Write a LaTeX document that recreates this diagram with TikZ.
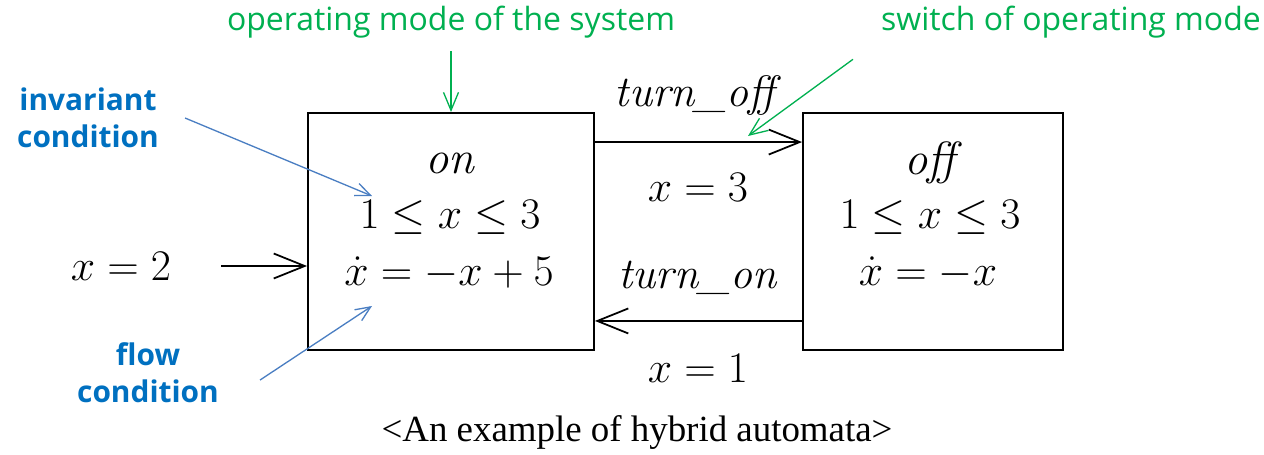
\documentclass[tikz,border=0pt]{standalone}
\usepackage{fontspec}
\usepackage{amsmath}
\usetikzlibrary{positioning, arrows.meta}
\newfontfamily\notefont{Open Sans}
\newfontfamily\capfont{Liberation Serif}
\definecolor{hagreen}{HTML}{00B050}
\definecolor{hablue}{HTML}{0070C0}
\definecolor{halink}{HTML}{4A7EC2}
\begin{document}
\begin{tikzpicture}[x=0.02cm, y=-0.02cm,
    modebox/.style={draw, line width=1.1pt, minimum height=4.74cm, inner sep=0pt},
    mathtxt/.style={font=\fontsize{26.5}{31}\selectfont, inner sep=0pt},
    trans/.style={-{Straight Barb[length=0.62cm, width=0.5cm, line width=1pt]}, line width=1.1pt},
    gnote/.style={text=hagreen, font=\notefont\fontsize{18.2}{22}\selectfont},
    bnote/.style={text=hablue, font=\notefont\bfseries\fontsize{17}{21}\selectfont, align=center},
    gline/.style={draw=hagreen, line width=0.75pt, -{Straight Barb[length=0.36cm, width=0.3cm]}},
    bline/.style={draw=halink, line width=0.75pt, -{Straight Barb[length=0.3cm, width=0.26cm]}}]
  \useasboundingbox (0,0) rectangle (1264,454);
  \node[modebox, minimum width=5.72cm] (on) at (451,231.5) {};
  \node[modebox, minimum width=5.2cm] (off) at (933,231.5) {};
  \node[mathtxt] (onname) at (450,163) {\textit{on}};
  \node[mathtxt] (oninv) at (450,217) {$1\leq x\leq 3$};
  \node[mathtxt] (onflow) at (449,273) {$\dot{x}=-x+5$};
  \node[mathtxt] (offname) at (933,163) {\textit{off}};
  \node[mathtxt] (offinv) at (930,217) {$1\leq x\leq 3$};
  \node[mathtxt] (offflow) at (928,273) {$\dot{x}=-x$};
  \node[mathtxt, font=\fontsize{28}{33}\selectfont] (init) at (121,266) {$x=2$};
  \draw[trans] ([xshift=1cm]init.east) -- (init -| on.west);
  \draw[trans] ([yshift=-0.6cm]on.north east) -- ([yshift=-0.6cm]off.north west);
  \draw[trans] ([yshift=0.6cm]off.south west) -- ([yshift=0.6cm]on.south east);
  \node[mathtxt, font=\fontsize{25}{30}\selectfont] (tofflabel) at (698,96) {\textit{turn\_off}};
  \node[mathtxt] (tofguard) at (698,187) {$x=3$};
  \node[mathtxt, font=\fontsize{25}{30}\selectfont] (tonlabel) at (698,278) {\textit{turn\_on}};
  \node[mathtxt] (tonguard) at (698,368) {$x=1$};
  \node[gnote] (modenote) at (451,22) {operating mode of the system};
  \node[gnote] (switchnote) at (1071,22) {switch of operating mode};
  \coordinate (switchtip) at (748,136);
  \draw[gline] (modenote.south) ++(0,7) -- (on.north);
  \draw[gline] ([shift={(-22,15)}]switchnote.south west) -- (switchtip);
  \node[bnote] (invnote) at (88,118) {invariant\\condition};
  \node[bnote] (flownote) at (148,373) {flow\\condition};
  \coordinate (invtip) at (372,196);
  \coordinate (flowtip) at (372,306);
  \draw[bline] ([xshift=0.4cm]invnote.east) -- (invtip);
  \draw[bline] ([shift={(35,7)}]flownote.east) -- (flowtip);
  \node[font=\capfont\fontsize{21}{25}\selectfont] (caption) at (637,432) {<An example of hybrid automata>};
\end{tikzpicture}
\end{document}
